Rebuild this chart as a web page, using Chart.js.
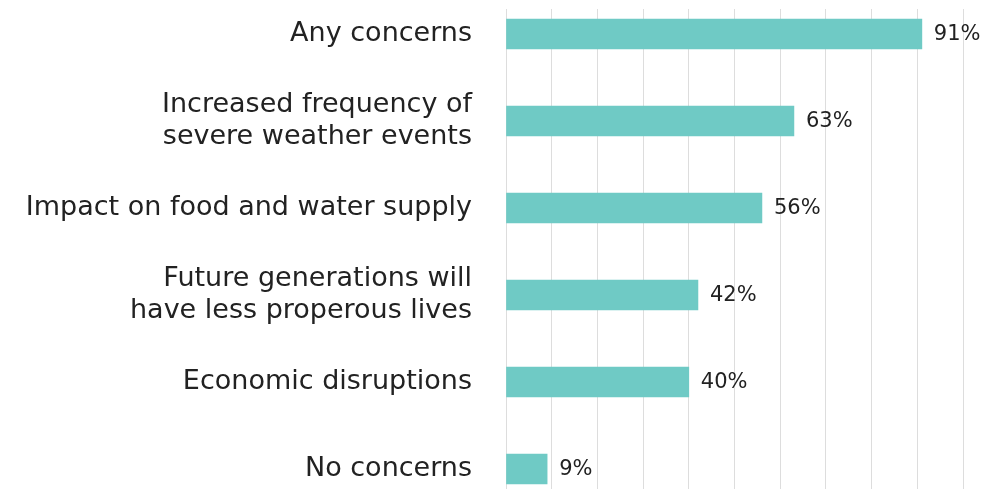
<!DOCTYPE html>
<html lang="en">
<head>
  <meta charset="UTF-8" />
  <title>Climate concerns</title>
  <script src="https://cdn.jsdelivr.net/npm/chart.js"></script>
  <style>
    html, body {
      margin: 0;
      padding: 0;
      background: #ffffff;
      overflow: hidden;
    }
    #wrap {
      width: 983px;
      height: 489px;
      position: relative;
    }
  </style>
</head>
<body>
  <div id="wrap">
    <canvas id="chart"></canvas>
  </div>

  <script>
    const categories = [
      'Any concerns',
      ['Increased frequency of', 'severe weather events'],
      'Impact on food and water supply',
      ['Future generations will', 'have less properous lives'],
      'Economic disruptions',
      'No concerns'
    ];
    const values = [91, 63, 56, 42, 40, 9];
    const xTicks = [0, 10, 20, 30, 40, 50, 60, 70, 80, 90, 100];

    const barColor = '#6fcac5';
    const textColor = '#222222';
    const gridColor = '#dddddd';

    // values printed just right of each bar
    const valueLabels = {
      id: 'valueLabels',
      afterDatasetsDraw(chart) {
        const ctx = chart.ctx;
        const meta = chart.getDatasetMeta(0);
        ctx.save();
        ctx.font = '21px "DejaVu Sans", sans-serif';
        ctx.fillStyle = textColor;
        ctx.textAlign = 'left';
        ctx.textBaseline = 'middle';
        meta.data.forEach((bar, i) => {
          ctx.fillText(values[i] + '%', bar.x + 12, bar.y + 1);
        });
        ctx.restore();
      }
    };

    const ctx = document.getElementById('chart').getContext('2d');
    const chart = new Chart(ctx, {
      type: 'bar',
      data: {
        datasets: [{
          data: values.map((v, i) => ({ x: v, y: i })),
          backgroundColor: barColor,
          borderWidth: 0,
          barThickness: 30
        }]
      },
      options: {
        indexAxis: 'y',
        responsive: true,
        maintainAspectRatio: false,
        animation: false,
        layout: { padding: { top: 9, right: 20, bottom: 0, left: 0 } },
        plugins: {
          legend: { display: false },
          tooltip: { enabled: false }
        },
        scales: {
          x: {
            type: 'linear',
            min: xTicks[0],
            max: xTicks[xTicks.length - 1],
            afterBuildTicks: s => { s.ticks = xTicks.map(v => ({ value: v })); },
            afterFit: s => { s.height = 0; s.paddingLeft = 0; s.paddingRight = 0; },
            ticks: { display: false, padding: 0 },
            grid: { color: gridColor, lineWidth: 1, drawTicks: false },
            border: { display: false }
          },
          y: {
            type: 'linear',
            reverse: true,
            offset: false,
            min: -0.287,
            max: 5.23,
            afterBuildTicks: s => { s.ticks = categories.map((_, i) => ({ value: i })); },
            afterFit: s => { s.width = 506; s.paddingTop = 0; s.paddingBottom = 0; },
            ticks: {
              autoSkip: false,
              padding: 34,
              color: textColor,
              font: { family: '"DejaVu Sans", sans-serif', size: 27, lineHeight: 1.17 },
              callback: v => categories[v]
            },
            grid: { display: false, drawTicks: false, offset: false },
            border: { display: false }
          }
        }
      },
      plugins: [valueLabels]
    });
  </script>
</body>
</html>
